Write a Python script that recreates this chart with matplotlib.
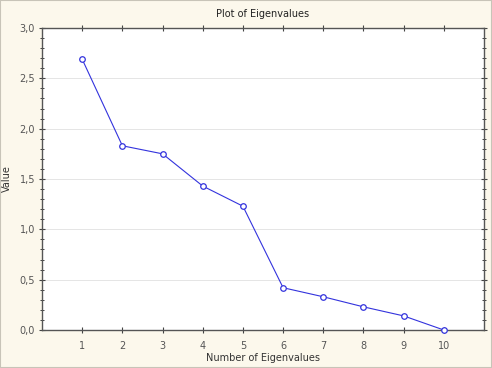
import matplotlib.pyplot as plt
from matplotlib.ticker import MultipleLocator, FuncFormatter

# eigenvalues
n_eig = [1, 2, 3, 4, 5, 6, 7, 8, 9, 10]
values = [2.69, 1.83, 1.75, 1.43, 1.23, 0.42, 0.33, 0.23, 0.14, 0.0]

bg = '#fcf8ec'
fig = plt.figure(figsize=(4.92, 3.68), dpi=100, facecolor=bg)
ax = fig.add_axes([42/492, 1-330/368, 442/492, 302/368])
ax.set_facecolor('white')

ax.plot(n_eig, values, color='#3333dd', lw=0.8, marker='o', ms=4,
        mfc='white', mec='#3333dd', mew=0.9, clip_on=False, zorder=3)

ax.set_xlim(0, 11)
ax.set_ylim(0, 3.0)
ax.set_xticks(n_eig)
ax.yaxis.set_major_locator(MultipleLocator(0.5))
ax.yaxis.set_minor_locator(MultipleLocator(0.1))
ax.yaxis.set_major_formatter(FuncFormatter(lambda v, p: ('%.1f' % v).replace('.', ',')))
ax.grid(axis='y', color='#e0e0e0', lw=0.6)
ax.set_axisbelow(True)

ax.tick_params(which='both', direction='inout', top=True, right=True,
               labelsize=7, colors='#444444', labelcolor='#555555')
ax.tick_params(which='major', length=4, width=0.8)
ax.tick_params(which='minor', length=3, width=0.7)
ax.tick_params(axis='x', pad=6)
ax.tick_params(axis='y', pad=3)
for s in ax.spines.values():
    s.set_color('#555555')
    s.set_linewidth(1.0)

ax.set_title('Plot of Eigenvalues', fontsize=7, color='#222222', pad=8)
ax.set_xlabel('Number of Eigenvalues', fontsize=7, color='#333333')
ax.set_ylabel('Value', fontsize=7, color='#333333')
ax.xaxis.set_label_coords(0.5, -0.075)
ax.yaxis.set_label_coords(-0.068, 0.5)

# thin frame around the whole window
fig.patches.append(plt.Rectangle((0, 0), 1, 1, transform=fig.transFigure,
                                 fill=False, ec='#c8c4b8', lw=1.5))

fig.savefig('out.png', dpi=100, facecolor=bg)
